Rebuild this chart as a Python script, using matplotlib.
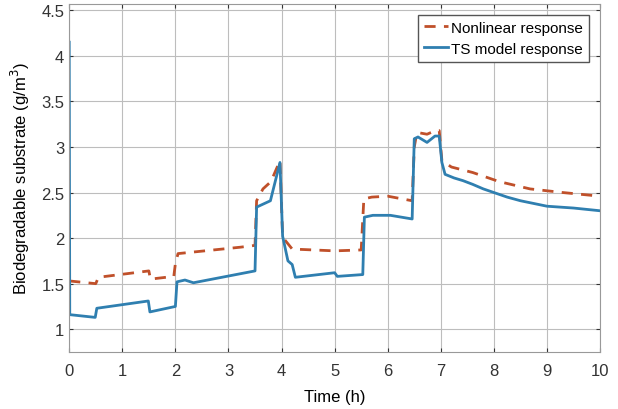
import matplotlib.pyplot as plt
import numpy as np

plt.rcParams['font.family'] = ['Liberation Sans', 'DejaVu Sans']

# Nonlinear response (dashed)
t_nl = [0, 0.5, 0.55, 1.5, 1.53, 1.97, 2.0, 2.05, 3.22, 3.5, 3.53, 3.65, 3.8, 3.97,
        4.02, 4.2, 5.0, 5.5, 5.55, 5.7, 6.0, 6.46, 6.5, 6.55, 6.74, 6.9, 6.97,
        7.02, 7.2, 7.6, 8.1, 8.68, 9.3, 10.0]
y_nl = [1.53, 1.50, 1.57, 1.64, 1.55, 1.58, 1.72, 1.83, 1.90, 1.92, 2.41, 2.54, 2.62, 2.85,
        2.01, 1.88, 1.86, 1.87, 2.43, 2.45, 2.46, 2.41, 3.0, 3.16, 3.14, 3.18, 3.18,
        2.85, 2.78, 2.72, 2.62, 2.54, 2.50, 2.46]

# TS model response (solid)
t_ts = [0, 0.01, 0.49, 0.52, 1.49, 1.52, 2.0, 2.03, 2.18, 2.34, 3.5, 3.53, 3.79, 3.97,
        4.02, 4.12, 4.2, 4.26, 5.0, 5.05, 5.53, 5.56, 5.72, 6.05, 6.46, 6.5, 6.57,
        6.74, 6.89, 6.97, 7.02, 7.08, 7.25, 7.42, 7.6, 7.8, 8.0, 8.25, 8.5, 8.75,
        9.0, 9.25, 9.5, 9.75, 10.0]
y_ts = [4.15, 1.16, 1.13, 1.23, 1.31, 1.19, 1.25, 1.52, 1.54, 1.51, 1.64, 2.34, 2.41, 2.83,
        2.02, 1.75, 1.71, 1.57, 1.62, 1.58, 1.60, 2.23, 2.25, 2.25, 2.21, 3.09, 3.11,
        3.05, 3.12, 3.12, 2.83, 2.70, 2.66, 2.63, 2.59, 2.54, 2.50, 2.45, 2.41, 2.38,
        2.35, 2.34, 2.33, 2.315, 2.30]

fig = plt.figure(figsize=(6.18, 4.10), dpi=100)
ax = fig.add_axes([0.112, 0.139, 0.859, 0.849])

ax.plot(t_nl, y_nl, '--', color='#c0502a', lw=2, dashes=(4, 3), label='Nonlinear response')
ax.plot(t_ts, y_ts, '-', color='#2f7fb0', lw=2, label='TS model response')

ax.set_xlim(0, 10)
ax.set_ylim(0.75, 4.57)
ax.set_xticks(np.arange(0, 11, 1))
ax.set_yticks([1, 1.5, 2, 2.5, 3, 3.5, 4, 4.5])
ax.set_yticklabels(['1', '1.5', '2', '2.5', '3', '3.5', '4', '4.5'])
ax.grid(True, color='#bdbdbd', lw=0.8)
ax.tick_params(direction='in', top=True, right=True, labelsize=12, colors='#333333', length=3)
ax.tick_params(axis='x', pad=8)
for s in ax.spines.values():
    s.set_color('#999999')

ax.set_xlabel('Time (h)', fontsize=12, labelpad=8)
ax.set_ylabel('Biodegradable substrate (g/m$^3$)', fontsize=12, labelpad=7)
ax.legend(loc='upper right', fontsize=11, fancybox=False, edgecolor='#555555',
          framealpha=1, handlelength=1.6, borderaxespad=0.7, borderpad=0.4, labelspacing=0.45,
          handletextpad=0.2)

fig.savefig('out.png', dpi=100)
